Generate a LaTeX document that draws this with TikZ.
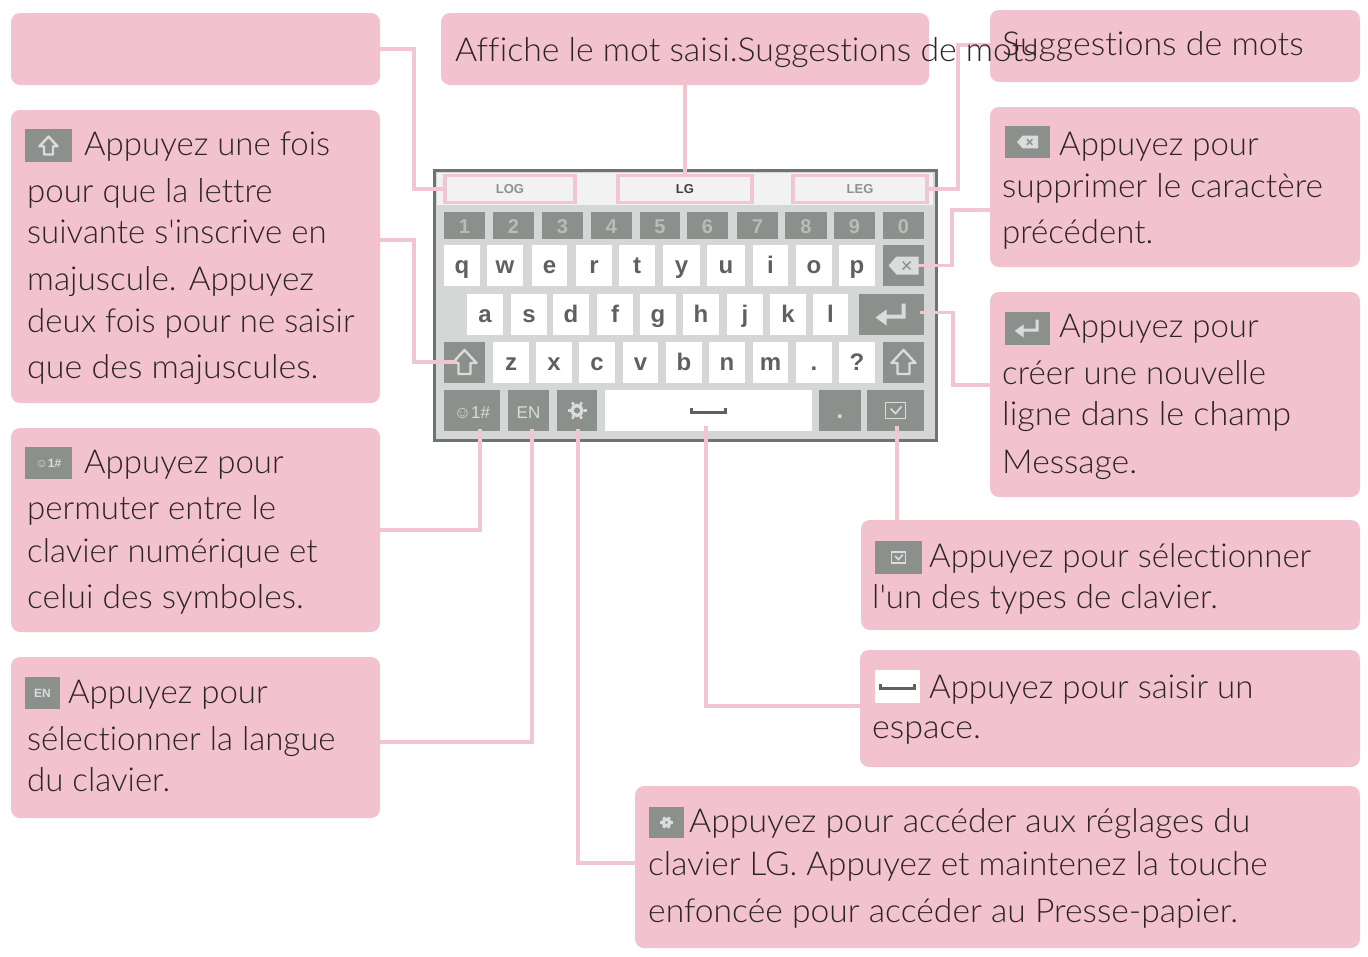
\documentclass[tikz,border=0pt]{standalone}
\usepackage{graphicx}
\usepackage{fontspec}
\setmainfont{Lato Light}[Ligatures={NoCommon,TeXOff}]
\newfontfamily\keyfont{Liberation Sans}
\definecolor{pinkbox}{HTML}{F2C3CF}
\definecolor{pinkline}{HTML}{F2C6D1}
\definecolor{inkc}{HTML}{2E2428}
\definecolor{greykey}{HTML}{8C908D}
\definecolor{keyglyph}{HTML}{D9DCDA}
\definecolor{digitc}{HTML}{B9BDBA}
\definecolor{kbbg}{HTML}{D4D7D5}
\definecolor{kbframe}{HTML}{6F7371}
\definecolor{letter}{HTML}{5F6160}
\definecolor{candsoft}{HTML}{8E908F}
\colorlet{kbwhite}{white!95!black}
\tikzset{
  x=1pt,y=-1pt,
  box/.style={draw=none,fill=pinkbox,rounded corners=9pt,inner sep=0pt},
  txt/.style={anchor=base west,inner sep=0pt,text=inkc,font=\fontsize{33}{36}\selectfont},
  conn/.style={draw=pinkline,line width=3.6pt},
  keybase/.style={inner sep=0pt,minimum height=#1,text height=17pt,text depth=1pt,font=\keyfont\bfseries\fontsize{24}{26}\selectfont},
  wkey/.style={keybase=41pt,fill=white,text=letter},
  gkey/.style={keybase=41pt,fill=greykey,text=keyglyph},
  nkey/.style={keybase=27pt,fill=greykey,text=digitc,text height=16pt,text depth=0pt,font=\keyfont\bfseries\fontsize{20}{22}\selectfont},
  cand/.style={inner sep=0pt,draw=pinkline,line width=3.6pt,fill=kbwhite,text=candsoft,minimum height=27pt,font=\keyfont\bfseries\fontsize{13}{15}\selectfont},
  icon/.style={inner sep=0pt,fill=greykey,text=keyglyph,font=\keyfont\bfseries\fontsize{12}{14}\selectfont},
  pics/shiftg/.style={code={\path[draw=keyglyph,fill=none,line width=2.4pt,line join=round] (0,-12)--(12,1)--(6,1)--(6,12)--(-6,12)--(-6,1)--(-12,1)--cycle;}},
  pics/backg/.style={code={\path[fill=keyglyph] (-15,0)--(-7,-9)--(15,-9)--(15,9)--(-7,9)--cycle;\path[draw=greykey,line width=1.4pt] (-1,-4)--(7,4) (-1,4)--(7,-4);}},
  pics/enterg/.style={code={\path[fill=keyglyph] (-16,3)--(-5,-5)--(-5,0)--(10,0)--(10,-11)--(14,-11)--(14,4)--(-5,4)--(-5,11)--cycle;}},
  pics/gearg/.style={code={\path[draw=keyglyph,line width=3.4pt,fill=none] (0,0) circle[radius=5];\foreach \a in {0,60,...,300}{\path[draw=keyglyph,line width=2.6pt] (\a:6.5)--(\a:9.5);}}},
  pics/spaceg/.style={code={\path[draw=#1,line width=2.2pt] (-17,-3)--(-17,2)--(17,2)--(17,-3);}},
  pics/kbg/.style={code={\path[draw=keyglyph,line width=1.6pt] (-10,-8) rectangle (10,8);\path[draw=keyglyph,line width=1.6pt] (-5,-2)--(0,3)--(6,-4);}},
}
\newcommand{\lineT}[5][1]{\node[txt] (#2) at (#3,#4) {\scalebox{#1}[1]{#5}};}
\newcommand{\wk}[4]{\node[wkey,minimum width={#4-#3}] (key#1) at ({(#3+#4)/2},#2) {#1};}
\begin{document}
\begin{tikzpicture}
\useasboundingbox[fill=white] (0,0) rectangle (1368,956);
% boxes
\node[box,minimum width=369pt,minimum height=72pt] (boxA) at (195.5,49) {};
\node[box,minimum width=488pt,minimum height=72pt] (boxB) at (685,49) {};
\node[box,minimum width=370pt,minimum height=72pt] (boxC) at (1175,46) {};
\node[box,minimum width=369pt,minimum height=293pt] (boxD) at (195.5,256.5) {};
\node[box,minimum width=369pt,minimum height=204pt] (boxE) at (195.5,530) {};
\node[box,minimum width=369pt,minimum height=161pt] (boxF) at (195.5,737.5) {};
\node[box,minimum width=370pt,minimum height=160pt] (boxG) at (1175,187) {};
\node[box,minimum width=370pt,minimum height=205pt] (boxH) at (1175,394.5) {};
\node[box,minimum width=499pt,minimum height=110pt] (boxI) at (1110.5,575) {};
\node[box,minimum width=500pt,minimum height=117pt] (boxJ) at (1110,708.5) {};
\node[box,minimum width=725pt,minimum height=162pt] (boxK) at (997.5,867) {};
% keyboard
\node[inner sep=0pt,draw=kbframe,line width=3pt,fill=kbbg,minimum width=502pt,minimum height=270pt] (kb) at (685,305) {};
\node[inner sep=0pt,fill=kbwhite,minimum width=496pt,minimum height=32pt] (candbar) at (685,189) {};
\node[cand,minimum width=130pt] (cand1) at (510,189) {LOG};
\node[cand,minimum width=134pt,text=black!75] (cand2) at (685,189) {LG};
\node[cand,minimum width=134pt] (cand3) at (860,189) {LEG};
% number row
\foreach \n/\a/\b in {1/444/485,2/493/534,3/542/583,4/591/632,5/640/680,6/687/728,7/737/778,8/785/827,9/834/875,0/883/924}
  \node[nkey,minimum width={\b-\a}] (key\n) at ({(\a+\b)/2},225) {\n};
% letters
\foreach \l/\a/\b in {q/444/480,w/487/523,e/532/567,r/576/612,t/619/655,y/663/700,u/707/745,i/753/788,o/796/832,p/839/875}
  \wk{\l}{265.5}{\a}{\b}
\foreach \l/\a/\b in {a/467/503,s/511/547,d/553/589,f/597/633,g/640/676,h/683/719,j/727/763,k/770/806,l/813/848}
  \wk{\l}{314.5}{\a}{\b}
\foreach \l/\a/\b in {z/493/529,x/536/572,c/579/615,v/623/658,b/666/702,n/709/745,m/753/788}
  \wk{\l}{362}{\a}{\b}
\node[wkey,minimum width=36pt] (keyPeriod) at (814,362) {.};
\node[wkey,minimum width=36pt] (keyQuestion) at (857,362) {?};
% grey keys
\node[gkey,minimum width=41pt] (keyBack) at (903.5,265.5) {};
\node[gkey,minimum width=65pt] (keyEnter) at (891.5,314.5) {};
\node[gkey,minimum width=41pt] (keyShiftL) at (464.5,362) {};
\node[gkey,minimum width=41pt] (keyShiftR) at (903.5,362) {};
\node[gkey,minimum width=56pt,font=\keyfont\fontsize{17}{20}\selectfont] (keySym) at (472,410.5) {☺1\#};
\node[gkey,minimum width=41pt,font=\keyfont\fontsize{17}{20}\selectfont] (keyEN) at (528.5,410.5) {EN};
\node[gkey,minimum width=40pt] (keyGear) at (577,410.5) {};
\node[wkey,minimum width=207pt] (keySpace) at (708.5,410.5) {};
\node[gkey,minimum width=42pt] (keyDot) at (840,410.5) {.};
\node[gkey,minimum width=57pt] (keyKb) at (895.5,410.5) {};
\pic at (keyBack) {backg};
\pic at (keyEnter) {enterg};
\pic at (keyShiftL) {shiftg};
\pic at (keyShiftR) {shiftg};
\pic at (keyGear) {gearg};
\pic at (keySpace) {spaceg=letter};
\pic at (keyKb) {kbg};
% connector points
\coordinate (oD) at (380,240);
\coordinate (oE) at (380,530);
\coordinate (oF) at (380,742);
\coordinate (oK) at (635,863);
\coordinate (oJ) at (860,706);
\coordinate (oH) at (990,385);
\coordinate (oG) at (990,210);
\coordinate (oC) at (990,45);
\coordinate (bA) at (414,100);
\coordinate (bD) at (414,300);
\coordinate (bC) at (958,100);
\coordinate (bG) at (952,240);
\coordinate (bH) at (953,350);
\coordinate (tShift) at ([xshift=-8pt]keyShiftL.center);
\coordinate (tBack) at ([xshift=14pt]keyBack.center);
\coordinate (tEnter) at ([xshift=28pt,yshift=2pt]keyEnter.center);
\coordinate (tSym) at ([xshift=8pt,yshift=2pt]keySym.south);
\coordinate (tEN) at ([xshift=3.5pt,yshift=2pt]keyEN.south);
\coordinate (tGear) at ([xshift=1pt,yshift=2pt]keyGear.south);
\coordinate (tSpace) at ([xshift=-2.5pt,yshift=5pt]keySpace.south);
\coordinate (tKb) at ([xshift=1.5pt,yshift=5pt]keyKb.south);
% connectors
\draw[conn] (boxA.east) -| (bA) |- (cand1.west);
\draw[conn] (boxB.south) -- (cand2.north);
\draw[conn] (oC) -| (bC) |- (cand3.east);
\draw[conn] (oD) -| (bD) |- (tShift);
\draw[conn] (oE) -| (tSym);
\draw[conn] (oF) -| (tEN);
\draw[conn] (oK) -| (tGear);
\draw[conn] (oJ) -| (tSpace);
\draw[conn] (boxI.north -| tKb) -- (tKb);
\draw[conn] (oH) -| (bH) |- (tEnter);
\draw[conn] (oG) -| (bG) |- (tBack);
% icons
\node[icon,minimum width=47pt,minimum height=33pt] (iconD) at (48.5,145.5) {};
\pic[scale=.75] at (iconD) {shiftg};
\node[icon,minimum width=47pt,minimum height=32pt] (iconE) at (48.5,463) {☺1\#};
\node[icon,minimum width=35pt,minimum height=32pt] (iconF) at (42.5,693) {EN};
\node[icon,minimum width=45pt,minimum height=32pt] (iconG) at (1027.5,142) {};
\pic[scale=.7] at (iconG) {backg};
\node[icon,minimum width=45pt,minimum height=33pt] (iconH) at (1027.5,328.5) {};
\pic[scale=.8] at (iconH) {enterg};
\node[icon,minimum width=47pt,minimum height=33pt] (iconI) at (898.5,557.5) {};
\pic[scale=.7] at (iconI) {kbg};
\node[icon,fill=white,minimum width=45pt,minimum height=33pt] (iconJ) at (897.5,686.5) {};
\pic at (iconJ) {spaceg=letter};
\node[icon,minimum width=35pt,minimum height=31pt] (iconK) at (666.5,822.5) {};
\pic[scale=.65] at (iconK) {gearg};
% texts
\lineT[1.025]{tB}{455}{61}{Affiche le mot saisi.Suggestions de mots}
\lineT[1.03]{tC}{1002}{55}{Suggestions de mots}
\lineT{tDa}{84}{155}{Appuyez une fois}
\lineT{tDb}{27}{202}{pour que la lettre}
\lineT{tDc}{27}{243}{suivante s'inscrive en}
\lineT[1.01]{tDd}{27}{290}{majuscule. Appuyez}
\lineT{tDe}{27}{332}{deux fois pour ne saisir}
\lineT[1.03]{tDf}{27}{378}{que des majuscules.}
\lineT{tEa}{84}{473}{Appuyez pour}
\lineT{tEb}{27}{519}{permuter entre le}
\lineT{tEc}{27}{562}{clavier numérique et}
\lineT[1.016]{tEd}{27}{608}{celui des symboles.}
\lineT{tFa}{68}{703}{Appuyez pour}
\lineT{tFb}{27}{750}{sélectionner la langue}
\lineT{tFc}{27}{791}{du clavier.}
\lineT{tGa}{1059}{155}{Appuyez pour}
\lineT[1.014]{tGb}{1002}{197}{supprimer le caractère}
\lineT{tGc}{1002}{243}{précédent.}
\lineT{tHa}{1059}{337}{Appuyez pour}
\lineT{tHb}{1002}{384}{créer une nouvelle}
\lineT[1.036]{tHc}{1002}{425}{ligne dans le champ}
\lineT[1.02]{tHd}{1002}{473}{Message.}
\lineT{tIa}{929}{567}{Appuyez pour sélectionner}
\lineT{tIb}{872}{608}{l'un des types de clavier.}
\lineT{tJa}{929}{698}{Appuyez pour saisir un}
\lineT[1.03]{tJb}{872}{738}{espace.}
\lineT[1.024]{tKa}{689}{832}{Appuyez pour accéder aux réglages du}
\lineT[1.01]{tKb}{648}{875}{clavier LG. Appuyez et maintenez la touche}
\lineT[1.02]{tKc}{648}{922}{enfoncée pour accéder au Presse-papier.}
\end{tikzpicture}
\end{document}
